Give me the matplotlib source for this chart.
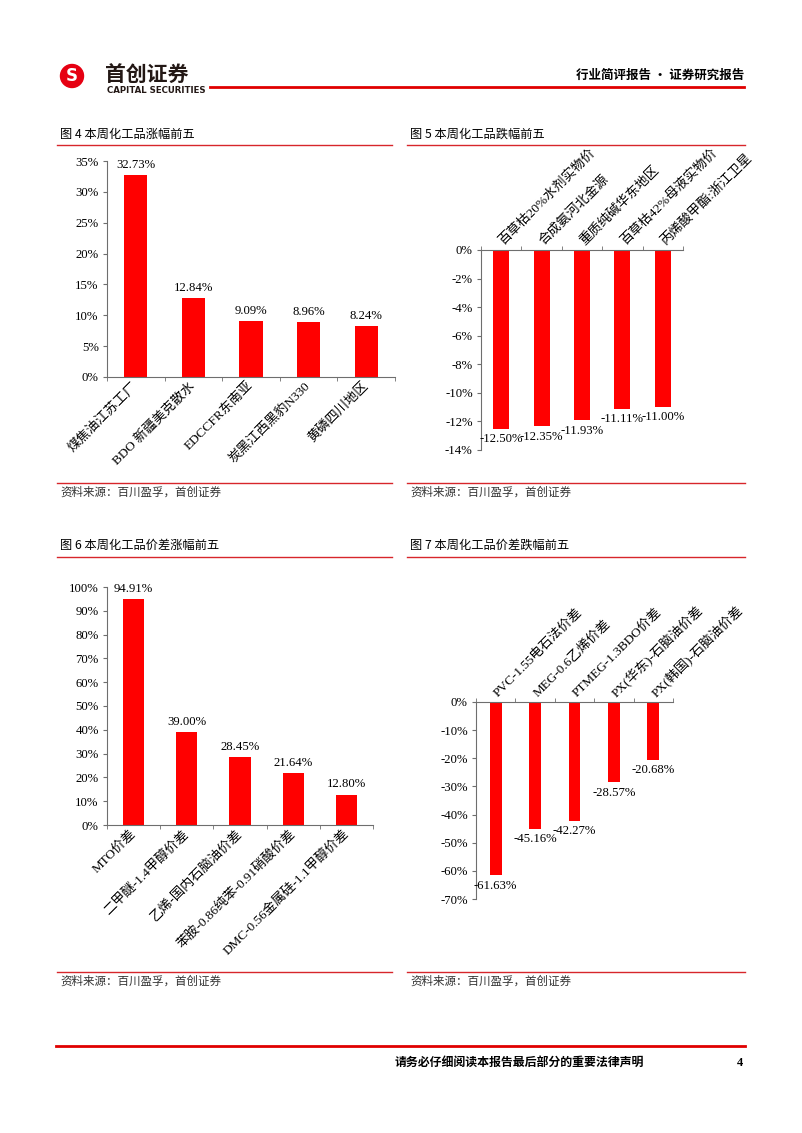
import matplotlib
matplotlib.use("Agg")
import matplotlib.pyplot as plt
from matplotlib.lines import Line2D
from matplotlib.patches import Ellipse
import numpy as np

plt.rcParams['font.family'] = ['Liberation Serif', 'Noto Sans CJK SC', 'DejaVu Sans']
plt.rcParams['axes.unicode_minus'] = False

# ---- data ----
cats4 = ['煤焦油江苏工厂', 'BDO 新疆美克散水', 'EDCCFR东南亚', '炭黑江西黑豹N330', '黄磷四川地区']
vals4 = [32.73, 12.84, 9.09, 8.96, 8.24]

cats5 = ['百草枯20%水剂实物价', '合成氨河北金源', '重质纯碱华东地区', '百草枯42%母液实物价', '丙烯酸甲酯:浙江卫星']
vals5 = [-12.50, -12.35, -11.93, -11.11, -11.00]

cats6 = ['MTO价差', '二甲醚-1.4甲醇价差', '乙烯-国内石脑油价差', '苯胺-0.86纯苯-0.91硝酸价差', 'DMC-0.56金属硅-1.1甲醇价差']
vals6 = [94.91, 39.00, 28.45, 21.64, 12.80]

cats7 = ['PVC-1.55电石法价差', 'MEG-0.6乙烯价差', 'PTMEG-1.3BDO价差', 'PX(华东)-石脑油价差', 'PX(韩国)-石脑油价差']
vals7 = [-61.63, -45.16, -42.27, -28.57, -20.68]

titles = ['图 4 本周化工品涨幅前五', '图 5 本周化工品跌幅前五',
          '图 6 本周化工品价差涨幅前五', '图 7 本周化工品价差跌幅前五']
source = '资料来源：百川盈孚，首创证券'

W, H = 802, 1133
RED = '#FF0000'
LINE_RED = '#D7262B'
AX_COL = '#6E6E6E'
CJK = ['Noto Sans CJK SC', 'DejaVu Sans']

fig = plt.figure(figsize=(W / 100, H / 100), dpi=100)


def fx(x):
    return x / W


def fy(y):
    return 1 - y / H


def hline(x0, x1, y, color=LINE_RED, lw=1.0):
    fig.add_artist(Line2D([fx(x0), fx(x1)], [fy(y), fy(y)], color=color, lw=lw,
                          transform=fig.transFigure))


def make_axes(left, right, top, bottom):
    return fig.add_axes([fx(left), fy(bottom), (right - left) / W, (bottom - top) / H])


def bar_panel(ax, cats, vals, ylim, step, width, negative):
    x = np.arange(len(cats))
    ax.bar(x, vals, width=width, color=RED, zorder=2)
    ax.set_xlim(-0.5, len(cats) - 0.5)
    ax.set_ylim(*ylim)
    yt = np.arange(ylim[0], ylim[1] + step / 2, step)
    ax.set_yticks(yt)
    ax.set_yticklabels([f"{v:.0f}%" for v in yt], fontsize=9.2)
    ax.set_xticks(x)
    ax.set_xticks(np.arange(-0.5, len(cats), 1), minor=True)
    ax.tick_params(axis='x', which='major', length=0, pad=5)
    ax.tick_params(axis='x', which='minor', length=3, color=AX_COL, direction='out')
    ax.tick_params(axis='y', length=3, color=AX_COL, direction='out', pad=3)
    ax.spines['right'].set_visible(False)
    ax.spines['left'].set_color(AX_COL)
    if negative:
        ax.spines['bottom'].set_visible(False)
        ax.spines['top'].set_color(AX_COL)
        ax.xaxis.tick_top()
        ax.tick_params(axis='x', which='both', bottom=False)
        ax.set_xticklabels(cats, rotation=45, ha='left', va='center',
                           rotation_mode='anchor', fontsize=9.5)
        for i, v in enumerate(vals):
            ax.annotate(f"{v:.2f}%", (i, v), xytext=(0, -3), textcoords='offset points',
                        ha='center', va='top', fontsize=9.2)
    else:
        ax.spines['top'].set_visible(False)
        ax.spines['bottom'].set_color(AX_COL)
        ax.set_xticklabels(cats, rotation=45, ha='right', va='center',
                           rotation_mode='anchor', fontsize=9.5)
        for i, v in enumerate(vals):
            ax.annotate(f"{v:.2f}%", (i, v), xytext=(0, 3), textcoords='offset points',
                        ha='center', va='bottom', fontsize=9.2)
    ax.patch.set_visible(False)


# ---- header ----
fig.add_artist(Ellipse((fx(72), fy(76)), 23 / W, 23 / H, color='#E60012',
                       transform=fig.transFigure))
fig.text(fx(72), fy(76), 'S', color='white', fontsize=12, fontweight='bold',
         family='DejaVu Sans', ha='center', va='center')
fig.text(fx(105), fy(75), '首创证券', fontsize=15, fontweight='bold', family=CJK,
         color='#231815', ha='left', va='center')
fig.text(fx(107), fy(90.5), 'CAPITAL SECURITIES', fontsize=6.2, fontweight='bold',
         family='DejaVu Sans', color='#231815', ha='left', va='center')
hline(210, 744, 87, color='#E00000', lw=2.0)
fig.text(fx(744), fy(75), '行业简评报告 · 证券研究报告', fontsize=9, fontweight='bold',
         family=CJK, ha='right', va='center')

# ---- panel frames: title, rule under title, rule + source at bottom ----
frames = [(60, 134, 57, 392, 145, 483), (410, 134, 407, 745, 145, 483),
          (60, 545, 57, 392, 557, 972), (410, 545, 407, 745, 557, 972)]
for t, (tx, ty, lx0, lx1, ly, sy) in zip(titles, frames):
    fig.text(fx(tx), fy(ty), t, fontsize=8.8, family=CJK, ha='left', va='center')
    hline(lx0, lx1, ly)
    hline(lx0, lx1, sy)
    fig.text(fx(tx), fy(sy + 9), source, fontsize=8.3, family=CJK, style='italic',
             color='#333333', ha='left', va='center')

# ---- charts ----
ax4 = make_axes(107, 395, 161, 377)
bar_panel(ax4, cats4, vals4, (0, 35), 5, 0.4, False)

ax5 = make_axes(481, 683, 250, 450)
bar_panel(ax5, cats5, vals5, (-14, 0), 2, 0.4, True)

ax6 = make_axes(107, 373, 587, 825)
bar_panel(ax6, cats6, vals6, (0, 100), 10, 0.4, False)

ax7 = make_axes(476, 673, 702, 899)
bar_panel(ax7, cats7, vals7, (-70, 0), 10, 0.3, True)

# ---- footer ----
hline(56, 745, 1046, color='#E00000', lw=2.0)
fig.text(fx(519), fy(1063), '请务必仔细阅读本报告最后部分的重要法律声明', fontsize=8.6,
         fontweight='bold', family=CJK, ha='center', va='center')
fig.text(fx(740), fy(1063), '4', fontsize=9, fontweight='bold', ha='center', va='center')

fig.savefig('out.png', dpi=100)
